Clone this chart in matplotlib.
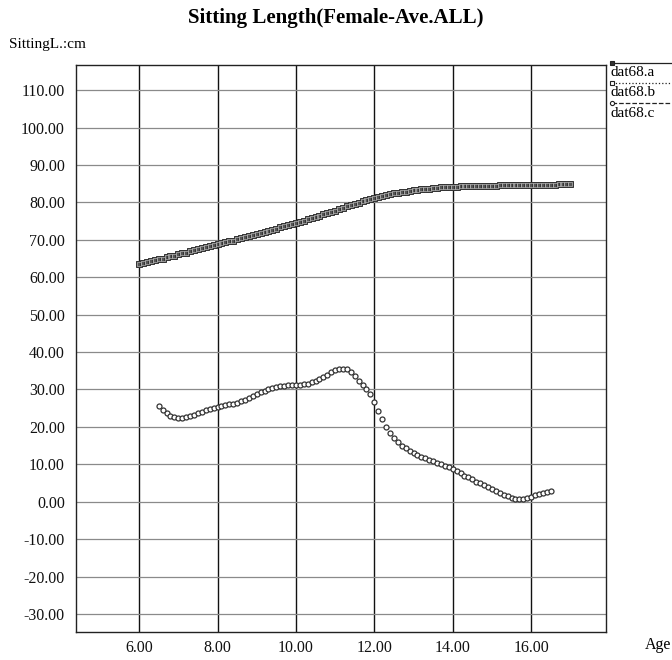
import numpy as np
import matplotlib.pyplot as plt
from matplotlib.lines import Line2D

plt.rcParams['font.family'] = ['Liberation Serif', 'DejaVu Serif']

# dat68.a / dat68.b : sitting length, ages 6.0 .. 17.0 (step 0.1)
age_ab = [round(6.0 + 0.1 * i, 1) for i in range(111)]
sit_ab = [63.5, 63.8, 64.0, 64.3, 64.5, 64.8, 65.0, 65.3, 65.6, 65.8,
          66.1, 66.4, 66.6, 66.9, 67.2, 67.5, 67.7, 68.0, 68.3, 68.5,
          68.8, 69.1, 69.3, 69.6, 69.8, 70.1, 70.4, 70.7, 70.9, 71.2,
          71.5, 71.8, 72.1, 72.4, 72.7, 73.0, 73.3, 73.6, 73.9, 74.2,
          74.5, 74.8, 75.1, 75.5, 75.8, 76.1, 76.4, 76.8, 77.1, 77.5,
          77.8, 78.2, 78.5, 78.9, 79.3, 79.6, 79.9, 80.3, 80.6, 80.9,
          81.2, 81.5, 81.7, 81.9, 82.2, 82.4, 82.6, 82.7, 82.9, 83.1,
          83.2, 83.3, 83.5, 83.6, 83.7, 83.8, 83.9, 84.0, 84.0, 84.1,
          84.2, 84.2, 84.3, 84.3, 84.4, 84.4, 84.4, 84.5, 84.5, 84.5,
          84.5, 84.5, 84.6, 84.6, 84.6, 84.6, 84.6, 84.6, 84.7, 84.7,
          84.7, 84.7, 84.7, 84.7, 84.7, 84.7, 84.7, 84.8, 84.8, 84.8,
          84.8]

# dat68.c : ages 6.5 .. 16.5 (step 0.1)
age_c = [round(6.5 + 0.1 * i, 1) for i in range(101)]
sit_c = [25.7, 24.5, 23.6, 23.0, 22.6,
         22.4, 22.4, 22.6, 22.9, 23.2, 23.6, 24.0, 24.4, 24.8, 25.1,
         25.4, 25.6, 25.8, 26.0, 26.2, 26.5, 26.8, 27.2, 27.7, 28.3,
         28.8, 29.3, 29.7, 30.1, 30.4, 30.7, 30.9, 31.0, 31.1, 31.1,
         31.2, 31.3, 31.4, 31.6, 31.9, 32.3, 32.8, 33.4, 34.0, 34.6,
         35.1, 35.5, 35.6, 35.4, 34.8, 33.7, 32.4, 31.3, 30.2, 28.8,
         26.6, 24.2, 22.1, 20.1, 18.5, 17.0, 15.9, 15.0, 14.3, 13.6,
         13.0, 12.5, 12.0, 11.6, 11.2, 10.8, 10.4, 10.0, 9.6, 9.2,
         8.8, 8.2, 7.6, 7.0, 6.5, 6.0, 5.4, 4.9, 4.4, 3.9,
         3.4, 2.9, 2.4, 1.9, 1.5, 1.1, 0.8, 0.7, 0.8, 1.1,
         1.4, 1.7, 2.0, 2.3, 2.6, 2.9]

x_ticks = [6, 8, 10, 12, 14, 16]
y_ticks = list(range(-30, 111, 10))
legend_names = ['dat68.a', 'dat68.b', 'dat68.c']

fig = plt.figure(figsize=(6.72, 6.6), dpi=100)
ax = fig.add_axes([0.1131, 0.0424, 0.7887, 0.8591])

ax.plot(age_ab, sit_ab, 's', ms=4.0, mfc='#555555', mec='#333333', mew=0.7)
ax.plot(age_ab, sit_ab, 's', ms=2.4, mfc='none', mec='#b0b0b0', mew=0.5)
ax.plot(age_c, sit_c, 'o', ms=3.6, mfc='white', mec='#333333', mew=0.9)

ax.set_xlim(4.39, 17.91)
ax.set_ylim(-34.8, 116.7)
ax.set_xticks(x_ticks)
ax.set_yticks(y_ticks)
ax.set_xticklabels([f'{v:.2f}' for v in x_ticks])
ax.set_yticklabels([f'{v:.2f}' for v in y_ticks])
ax.tick_params(length=0, labelsize=11.5, pad=8, colors='#111111')
ax.tick_params(axis='x', pad=6)

for v in x_ticks:
    ax.axvline(v, color='#111111', lw=1.0, zorder=0)
for v in y_ticks:
    ax.axhline(v, color='#8a8a8a', lw=0.9, zorder=0)
for s in ax.spines.values():
    s.set_color('#222222')
    s.set_linewidth(1.0)

fig.text(0.5, 0.972, 'Sitting Length(Female-Ave.ALL)', ha='center', va='center',
         fontsize=15, fontweight='bold')
fig.text(0.014, 0.933, 'SittingL.:cm', ha='left', va='center', fontsize=11)
fig.text(0.96, 0.023, 'Age', ha='left', va='center', fontsize=11.5)

# legend outside the axes on the right
styles = [('-', 's', '#333333'), (':', 's', 'white'), ('--', 'o', 'white')]
for i, (name, (ls, mk, fc)) in enumerate(zip(legend_names, styles)):
    yl = 1 - (62.7 + 20.3 * i) / 660
    fig.add_artist(Line2D([0.911, 1.0], [yl, yl], transform=fig.transFigure,
                          color='#222222', lw=0.9, ls=ls))
    fig.add_artist(Line2D([0.911], [yl], transform=fig.transFigure,
                          marker=mk, ms=3, mfc=fc, mec='#222222', mew=0.8))
    fig.text(0.909, yl - 0.015, name, ha='left', va='center', fontsize=11)

fig.savefig('out.png', dpi=100)
